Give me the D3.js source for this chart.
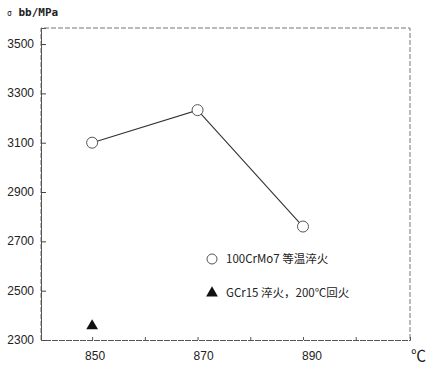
<!DOCTYPE html>
<html>
<head>
<meta charset="utf-8">
<script src="https://cdn.jsdelivr.net/npm/d3@7"></script>
<style>
  body { margin: 0; background: #fff; }
  text { font-family: "Liberation Sans", Arial, sans-serif; fill: #222; }
</style>
</head>
<body>
<div class="chart"></div>
<script>
var width = 434,
    height = 371;

// temperatures and strength values
var temps = [850, 870, 890];
var strength = [3100, 3232, 2760];
var gcrTemp = [850];
var gcrStrength = [2357];
var yTicks = [2300, 2500, 2700, 2900, 3100, 3300, 3500];
var xTicks = [850, 870, 890];
var xMinor = [850, 860, 870, 880, 890, 900];
var legendLabels = ["100CrMo7 等温淬火", "GCr15 淬火，200℃回火"];

var plotLeft = 41, plotRight = 410, plotTop = 28, plotBottom = 340;

var x = d3.scaleLinear().domain([840.3, 910.3]).range([plotLeft, plotRight]);
var y = d3.scaleLinear().domain([2300, 3565]).range([plotBottom, plotTop]);

var svg = d3.select(".chart")
  .append("svg")
    .attr("width", width)
    .attr("height", height);

// frame (scanned dashed look)
svg.append("path")
  .attr("d", "M" + plotLeft + "," + plotBottom + "V" + plotTop + "H" + plotRight + "V" + plotBottom)
  .attr("fill", "none")
  .attr("stroke", "#777")
  .attr("stroke-width", 1)
  .attr("stroke-dasharray", "5,2");

// y axis
var yAxis = svg.append("g")
  .attr("transform", "translate(" + plotLeft + ",0)")
  .call(d3.axisRight(y).tickValues(yTicks).tickSize(5).tickFormat(""));
yAxis.select(".domain").attr("stroke", "#555");
yAxis.selectAll(".tick line").attr("stroke", "#444");

svg.selectAll(".ylab")
  .data(yTicks)
  .enter()
  .append("text")
  .attr("class", "ylab")
  .attr("x", 34)
  .attr("y", function(d) { return y(d) + 4; })
  .attr("text-anchor", "end")
  .style("font-size", "12px")
  .text(function(d) { return d; });

// x axis
var xAxis = svg.append("g")
  .attr("transform", "translate(0," + plotBottom + ")")
  .call(d3.axisTop(x).tickValues(xMinor).tickSize(3).tickFormat(""));
xAxis.select(".domain").attr("stroke", "#555").attr("stroke-dasharray", "6,1");
xAxis.selectAll(".tick line").attr("stroke", "#555");

svg.selectAll(".xlab")
  .data(xTicks)
  .enter()
  .append("text")
  .attr("class", "xlab")
  .attr("x", function(d) { return x(d) + 3 + (d - 850) * 0.15; })
  .attr("y", 360)
  .attr("text-anchor", "middle")
  .style("font-size", "12px")
  .text(function(d) { return d; });

svg.append("text")
  .attr("x", 411)
  .attr("y", 361)
  .style("font-size", "15px")
  .style("font-family", '"Noto Sans CJK SC", sans-serif')
  .text("℃");

// y title
svg.append("text")
  .attr("x", 7)
  .attr("y", 16)
  .style("font-size", "11px")
  .style("font-family", '"DejaVu Sans Mono", monospace')
  .style("font-weight", "bold")
  .html('<tspan style="font-size:8px;font-weight:normal">σ</tspan> bb/MPa');

// line + circle markers
var pts = temps.map(function(t, i) { return [t, strength[i]]; });
svg.append("path")
  .datum(pts)
  .attr("d", d3.line().x(function(d) { return x(d[0]); }).y(function(d) { return y(d[1]); }))
  .attr("fill", "none")
  .attr("stroke", "#333")
  .attr("stroke-width", 1.1);

svg.selectAll(".pt")
  .data(pts)
  .enter()
  .append("circle")
  .attr("class", "pt")
  .attr("cx", function(d) { return x(d[0]); })
  .attr("cy", function(d) { return y(d[1]); })
  .attr("r", 5.5)
  .attr("fill", "#fff")
  .attr("stroke", "#555")
  .attr("stroke-width", 1);

var tri = d3.symbol().type(d3.symbolTriangle).size(60);
svg.selectAll(".tri")
  .data(gcrTemp.map(function(t, i) { return [t, gcrStrength[i]]; }))
  .enter()
  .append("path")
  .attr("class", "tri")
  .attr("transform", function(d) { return "translate(" + x(d[0]) + "," + y(d[1]) + ")"; })
  .attr("d", tri)
  .attr("fill", "#111");

// legend
svg.append("circle")
  .attr("cx", 212).attr("cy", 259).attr("r", 5)
  .attr("fill", "#fff").attr("stroke", "#555");
svg.append("path")
  .attr("transform", "translate(212,293)")
  .attr("d", tri)
  .attr("fill", "#111");

svg.selectAll(".leg")
  .data(legendLabels)
  .enter()
  .append("text")
  .attr("class", "leg")
  .attr("x", 226)
  .attr("y", function(d, i) { return 263 + i * 34; })
  .style("font-size", "11.5px")
  .style("font-family", '"Noto Sans CJK SC", sans-serif')
  .text(function(d) { return d; });
</script>
</body>
</html>
